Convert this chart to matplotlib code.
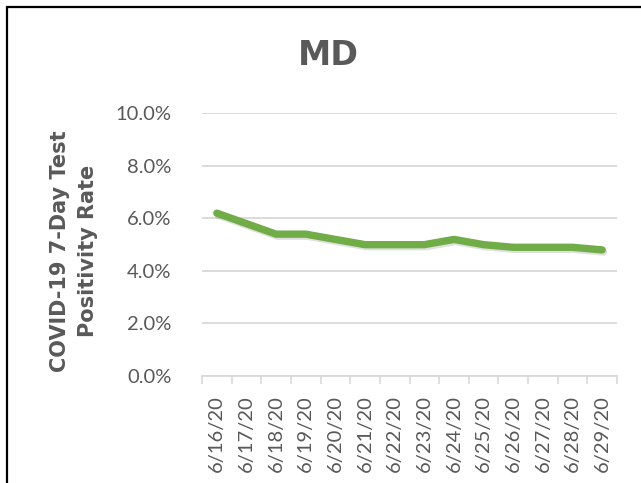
import matplotlib.pyplot as plt
import matplotlib.patheffects as pe
from matplotlib.patches import Rectangle
from matplotlib.ticker import PercentFormatter, FixedLocator

dates = ['6/16/20', '6/17/20', '6/18/20', '6/19/20', '6/20/20', '6/21/20', '6/22/20',
         '6/23/20', '6/24/20', '6/25/20', '6/26/20', '6/27/20', '6/28/20', '6/29/20']
positivity = [6.2, 5.8, 5.4, 5.4, 5.2, 5.0, 5.0, 5.0, 5.2, 5.0, 4.9, 4.9, 4.9, 4.8]
yticks = [0, 2, 4, 6, 8, 10]

plt.rcParams['font.family'] = ['Lato', 'DejaVu Sans']
txt = '#595959'
grid = '#D9D9D9'

fig = plt.figure(figsize=(6.41, 4.83), dpi=100)
ax = fig.add_axes([0.3151, 0.2215, 0.6475, 0.5439])

x = list(range(len(dates)))
ax.plot(x, positivity, color='#70AD47', lw=5.3, solid_capstyle='round', solid_joinstyle='round',
        path_effects=[pe.SimpleLineShadow(offset=(1, -1.5), shadow_color='black', alpha=0.12),
                      pe.Normal()], zorder=3)

ax.set_xlim(-0.5, len(dates) - 0.5)
ax.set_ylim(0, 10)
ax.set_yticks(yticks)
ax.yaxis.set_major_formatter(PercentFormatter(decimals=1))
ax.set_xticks(x)
ax.set_xticklabels(dates, rotation=90)
ax.xaxis.set_minor_locator(FixedLocator([i - 0.5 for i in range(len(dates) + 1)]))
ax.tick_params(axis='x', which='major', length=0, pad=14, labelsize=14.5, labelcolor=txt)
ax.tick_params(axis='x', which='minor', length=6, color=grid, width=1.2)
ax.tick_params(axis='y', length=0, pad=22, labelsize=14.5, labelcolor=txt)
ax.grid(axis='y', color=grid, lw=1.3, zorder=0)
for s in ['top', 'right', 'left']:
    ax.spines[s].set_visible(False)
ax.spines['bottom'].set_color(grid)
ax.spines['bottom'].set_linewidth(1.3)

fig.text(0.512, 0.886, 'MD', ha='center', va='center', fontsize=24, fontweight='bold',
         family='DejaVu Sans', color=txt)
fig.text(0.116, 0.480, 'COVID-19 7-Day Test\nPositivity Rate', rotation=90, ha='center', va='center',
         multialignment='center', fontsize=15, fontweight='bold', family='DejaVu Sans',
         color=txt, linespacing=1.5)

fig.patches.append(Rectangle((6.5 / 641, -0.1), 1.2, 1.1 - 7.5 / 483, transform=fig.transFigure,
                             fill=False, edgecolor='black', lw=1.6))

fig.savefig('out.png', dpi=100)
